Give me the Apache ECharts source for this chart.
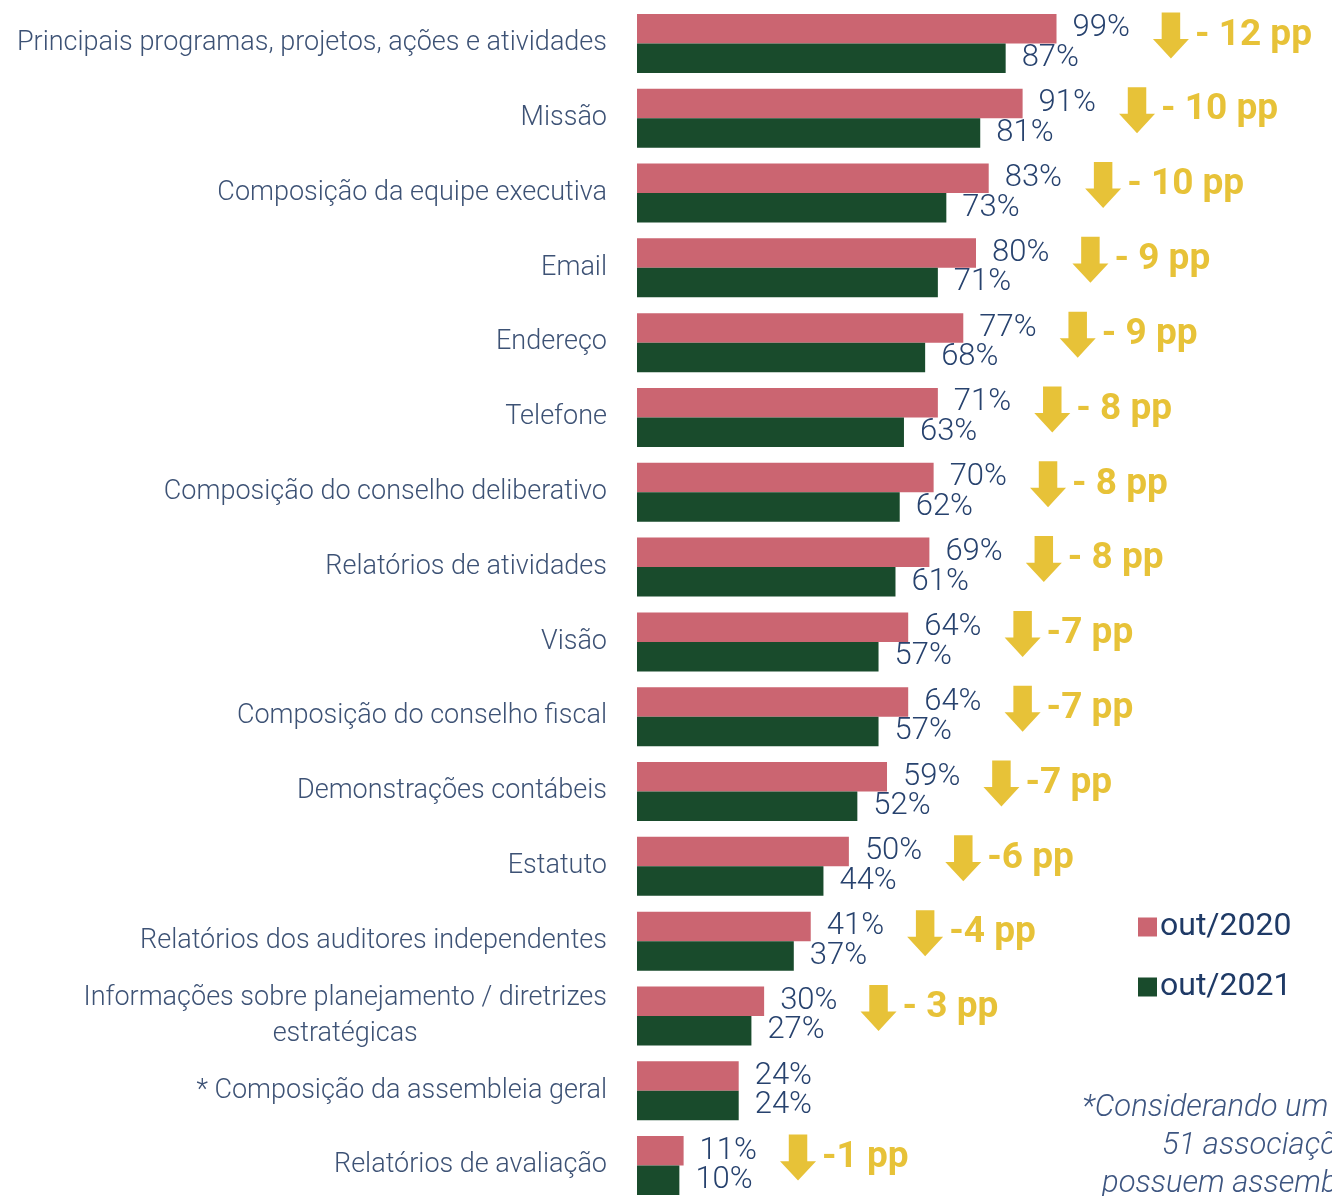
<!DOCTYPE html>
<html>
<head>
<meta charset="utf-8">
<script src="https://cdn.jsdelivr.net/npm/echarts@6/dist/echarts.min.js"></script>
<style>
  html, body { margin: 0; padding: 0; background: #fff; }
  #chart { width: 1332px; height: 1196px; }
</style>
</head>
<body>
<div id="chart"></div>
<script>
var categories = [
    'Principais programas, projetos, ações e atividades',
    'Missão',
    'Composição da equipe executiva',
    'Email',
    'Endereço',
    'Telefone',
    'Composição do conselho deliberativo',
    'Relatórios de atividades',
    'Visão',
    'Composição do conselho fiscal',
    'Demonstrações contábeis',
    'Estatuto',
    'Relatórios dos auditores independentes',
    'Informações sobre planejamento / diretrizes\nestratégicas',
    '* Composição da assembleia geral',
    'Relatórios de avaliação'
];
var out2020 = [99, 91, 83, 80, 77, 71, 70, 69, 64, 64, 59, 50, 41, 30, 24, 11];
var out2021 = [87, 81, 73, 71, 68, 63, 62, 61, 57, 57, 52, 44, 37, 27, 24, 10];
var diffLabels = ['- 12 pp', '- 10 pp', '- 10 pp', '- 9 pp', '- 9 pp', '- 8 pp', '- 8 pp', '- 8 pp',
    '-7 pp', '-7 pp', '-7 pp', '-6 pp', '-4 pp', '- 3 pp', '', '-1 pp'];

var navy = '#27426E';
var yellow = '#E1B306';

// seta amarela ao lado de cada par de barras (só onde houve queda)
var arrowData = [];
for (var i = 0; i < categories.length; i++) {
    if (diffLabels[i]) {
        arrowData.push({ value: [out2020[i] + 27, i], label: { formatter: diffLabels[i] } });
    }
}

var chart = echarts.init(document.getElementById('chart'));

var valueLabel = {
    show: true,
    position: 'right',
    distance: 16,
    formatter: '{c}%',
    fontFamily: 'Roboto',
    fontWeight: 300,
    fontSize: 31,
    color: navy
};

var option = {
    backgroundColor: '#fff',
    animation: false,
    grid: {
        left: 637,
        right: 17,
        top: 6,
        height: 1197,
        outerBoundsMode: 'none'
    },
    legend: {
        orient: 'vertical',
        left: 1133,
        top: 906,
        itemWidth: 19,
        itemHeight: 19,
        itemGap: 28,
        icon: 'rect',
        data: ['out/2020', 'out/2021'],
        textStyle: {
            fontFamily: 'Roboto',
            fontSize: 32,
            color: '#1F3A66',
            padding: [0, 0, 0, -2]
        }
    },
    xAxis: {
        type: 'value',
        min: 0,
        max: 160,
        show: false
    },
    yAxis: {
        type: 'category',
        inverse: true,
        data: categories,
        axisLine: { show: false },
        axisTick: { show: false },
        axisLabel: {
            margin: 30,
            align: 'right',
            formatter: function (v) {
                return v.split('\n').map(function (s) { return '{c|' + s + '}'; }).join('\n');
            },
            rich: {
                c: {
                    align: 'center',
                    fontFamily: 'Roboto',
                    fontWeight: 300,
                    fontSize: 27,
                    lineHeight: 36,
                    color: '#3D5275'
                }
            }
        }
    },
    series: [
        {
            name: 'out/2020',
            type: 'bar',
            data: out2020,
            barWidth: 29.5,
            barGap: '0%',
            itemStyle: { color: '#CB6571' },
            label: valueLabel
        },
        {
            name: 'out/2021',
            type: 'bar',
            data: out2021,
            barWidth: 29.5,
            barGap: '0%',
            itemStyle: { color: '#194B2C' },
            label: valueLabel
        },
        {
            type: 'scatter',
            data: arrowData,
            clip: false,
            symbol: 'path://M9,0 L28,0 L28,26 L37,26 L18.5,45 L0,26 L9,26 Z',
            symbolSize: [36, 46],
            symbolOffset: [0, -8],
            itemStyle: { color: yellow },
            label: {
                show: true,
                position: 'right',
                distance: 6,
                fontFamily: 'Roboto',
                fontWeight: 'bold',
                fontSize: 37,
                color: yellow
            }
        }
    ],
    graphic: [
        { type: 'text', left: 1082, top: 1093, style: { text: '*Considerando um total de', font: 'italic 300 31px Roboto', fill: '#3D5580' } },
        { type: 'text', left: 1162, top: 1131, style: { text: '51 associações, das quais', font: 'italic 300 31px Roboto', fill: '#3D5580' } },
        { type: 'text', left: 1102, top: 1169, style: { text: 'possuem assembleia geral', font: 'italic 300 31px Roboto', fill: '#3D5580' } }
    ]
};

chart.setOption(option);
</script>
</body>
</html>
